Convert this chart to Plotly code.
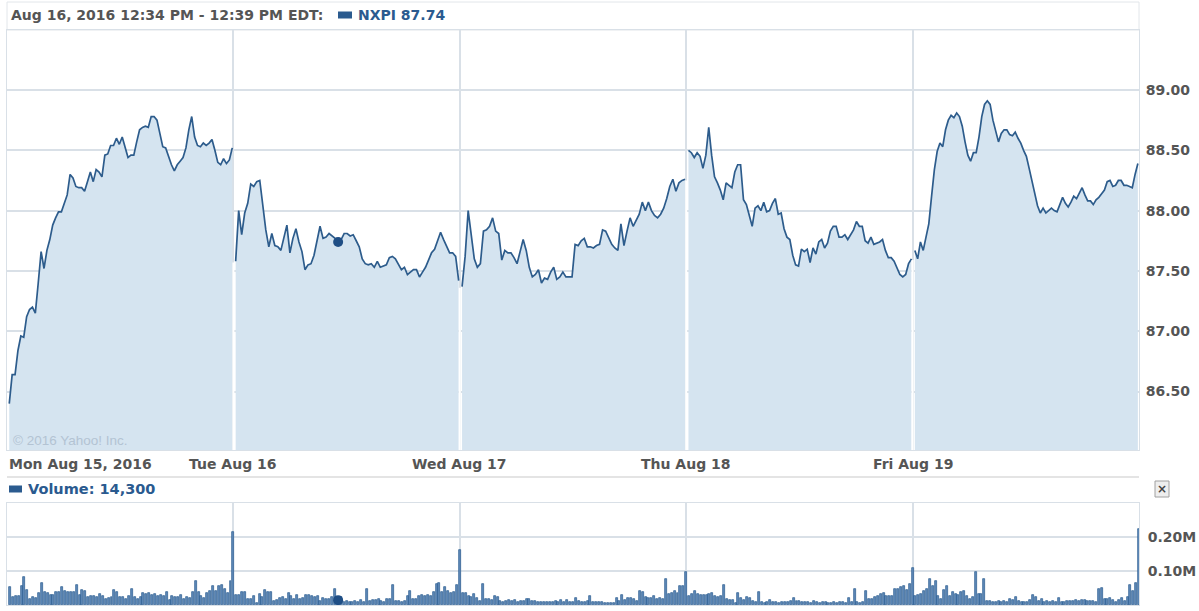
import plotly.graph_objects as go

# ---------------- data ----------------
day_labels = ["Mon Aug 15, 2016", "Tue Aug 16", "Wed Aug 17", "Thu Aug 18", "Fri Aug 19"]

price_mon = [86.40, 86.64, 86.64, 86.84, 86.96, 86.95, 87.12, 87.18, 87.20, 87.15,
             87.40, 87.66, 87.52, 87.67, 87.76, 87.88, 87.94, 87.99, 87.99, 88.06,
             88.13, 88.30, 88.27, 88.20, 88.19, 88.19, 88.16, 88.24, 88.32, 88.24,
             88.34, 88.32, 88.28, 88.46, 88.47, 88.54, 88.54, 88.60, 88.55, 88.61,
             88.53, 88.44, 88.46, 88.46, 88.57, 88.67, 88.69, 88.70, 88.69, 88.78,
             88.78, 88.75, 88.64, 88.53, 88.52, 88.44, 88.38, 88.33, 88.38, 88.41,
             88.44, 88.52, 88.67, 88.78, 88.61, 88.54, 88.53, 88.56, 88.54, 88.56,
             88.59, 88.50, 88.40, 88.38, 88.43, 88.39, 88.42, 88.52]
price_tue = [87.58, 88.00, 87.80, 87.98, 88.06, 88.22, 88.20, 88.24, 88.25, 88.03,
             87.84, 87.70, 87.81, 87.71, 87.70, 87.67, 87.77, 87.88, 87.65, 87.77,
             87.85, 87.74, 87.66, 87.51, 87.55, 87.56, 87.63, 87.76, 87.87, 87.77,
             87.78, 87.81, 87.79, 87.77, 87.74, 87.76, 87.81, 87.81, 87.79, 87.80,
             87.75, 87.70, 87.60, 87.56, 87.55, 87.56, 87.53, 87.58, 87.53, 87.54,
             87.55, 87.61, 87.62, 87.60, 87.55, 87.51, 87.53, 87.47, 87.49, 87.51,
             87.51, 87.45, 87.49, 87.53, 87.59, 87.65, 87.68, 87.76, 87.82, 87.76,
             87.71, 87.65, 87.65, 87.62, 87.42]
price_wed = [87.37, 87.62, 88.00, 87.80, 87.60, 87.53, 87.56, 87.83, 87.84, 87.87,
             87.94, 87.83, 87.81, 87.59, 87.67, 87.65, 87.65, 87.61, 87.56, 87.66,
             87.76, 87.67, 87.53, 87.45, 87.47, 87.51, 87.40, 87.44, 87.43, 87.49,
             87.53, 87.43, 87.45, 87.49, 87.45, 87.45, 87.45, 87.72, 87.71, 87.75,
             87.77, 87.70, 87.70, 87.69, 87.71, 87.72, 87.84, 87.83, 87.77, 87.72,
             87.69, 87.67, 87.89, 87.71, 87.83, 87.94, 87.87, 87.92, 87.97, 88.07,
             88.00, 88.07, 88.00, 87.96, 87.94, 87.97, 88.02, 88.10, 88.20, 88.26,
             88.16, 88.23, 88.25, 88.26]
price_thu = [88.50, 88.48, 88.44, 88.48, 88.45, 88.35, 88.46, 88.69, 88.46, 88.28,
             88.23, 88.17, 88.09, 88.23, 88.21, 88.19, 88.32, 88.38, 88.38, 88.09,
             88.05, 87.96, 87.87, 88.02, 88.04, 88.00, 88.07, 87.99, 88.00, 88.06,
             88.10, 87.97, 87.98, 87.85, 87.78, 87.76, 87.63, 87.55, 87.54, 87.68,
             87.66, 87.68, 87.57, 87.69, 87.64, 87.74, 87.76, 87.69, 87.73, 87.83,
             87.87, 87.87, 87.78, 87.78, 87.80, 87.76, 87.80, 87.84, 87.91, 87.87,
             87.87, 87.75, 87.73, 87.78, 87.72, 87.73, 87.74, 87.76, 87.67, 87.61,
             87.61, 87.58, 87.53, 87.47, 87.45, 87.47, 87.56, 87.60]
price_fri = [87.67, 87.60, 87.74, 87.67, 87.78, 87.89, 88.12, 88.34, 88.49, 88.56,
             88.53, 88.67, 88.75, 88.79, 88.77, 88.81, 88.78, 88.70, 88.57, 88.46,
             88.41, 88.48, 88.48, 88.61, 88.78, 88.88, 88.91, 88.88, 88.75, 88.65,
             88.57, 88.64, 88.67, 88.67, 88.63, 88.62, 88.65, 88.60, 88.56, 88.50,
             88.45, 88.35, 88.25, 88.14, 88.04, 87.98, 88.02, 87.98, 88.00, 88.02,
             88.00, 87.99, 88.05, 88.11, 88.06, 88.03, 88.07, 88.12, 88.10, 88.14,
             88.19, 88.13, 88.08, 88.08, 88.05, 88.09, 88.11, 88.14, 88.17, 88.24,
             88.25, 88.20, 88.21, 88.25, 88.25, 88.21, 88.21, 88.20, 88.19, 88.30,
             88.39]

# volume, thousands of shares per 5-minute bar
vol_mon = [52, 23, 27, 27, 55, 83, 44, 18, 25, 20,
           35, 65, 37, 35, 29, 29, 39, 37, 52, 42,
           39, 39, 37, 59, 29, 44, 42, 25, 27, 27,
           25, 32, 27, 18, 20, 23, 44, 37, 25, 25,
           18, 27, 47, 23, 18, 25, 35, 32, 34, 29,
           31, 27, 29, 27, 37, 15, 27, 25, 23, 29,
           18, 25, 20, 37, 71, 37, 27, 22, 35, 42,
           55, 42, 57, 59, 47, 35, 72, 214]
vol_tue = [29, 29, 39, 39, 18, 18, 27, 6, 32, 25,
           44, 37, 37, 13, 15, 20, 23, 18, 35, 27,
           18, 30, 18, 20, 29, 30, 27, 25, 27, 13,
           20, 18, 18, 25, 47, 14.3, 23, 10, 13, 8,
           10, 12, 10, 16, 8, 47, 13, 16, 16, 18,
           13, 10, 18, 18, 59, 13, 12, 10, 13, 27,
           42, 18, 18, 27, 29, 27, 29, 27, 37, 62,
           65, 37, 52, 42, 35, 37, 60, 163]
vol_wed = [35, 35, 27, 25, 32, 22, 13, 62, 18, 18,
           16, 27, 25, 13, 10, 13, 14, 13, 16, 10,
           12, 11, 18, 18, 13, 12, 10, 8, 8, 10,
           8, 10, 13, 10, 16, 10, 14, 10, 10, 22,
           13, 10, 10, 13, 27, 8, 10, 10, 8, 6,
           6, 6, 6, 22, 13, 29, 16, 22, 22, 18,
           13, 42, 37, 25, 22, 22, 27, 18, 22, 18,
           76, 32, 35, 42, 35, 55, 55, 96]
vol_thu = [27, 32, 42, 32, 30, 30, 29, 32, 34, 27,
           25, 27, 59, 18, 16, 16, 6, 35, 22, 16,
           25, 20, 13, 8, 39, 10, 6, 10, 15, 10,
           10, 6, 8, 10, 10, 13, 20, 13, 12, 10,
           8, 10, 6, 13, 10, 6, 8, 8, 6, 6,
           8, 6, 8, 10, 6, 20, 10, 47, 10, 6,
           10, 42, 18, 18, 25, 27, 32, 35, 27, 27,
           27, 47, 47, 52, 55, 44, 62, 108]
vol_fri = [27, 29, 32, 42, 47, 76, 55, 72, 27, 18,
           44, 55, 27, 37, 32, 29, 39, 42, 27, 18,
           25, 96, 32, 32, 76, 13, 13, 10, 10, 13,
           10, 13, 10, 18, 16, 25, 13, 10, 10, 10,
           16, 29, 25, 13, 18, 10, 13, 10, 13, 10,
           22, 10, 10, 13, 13, 13, 16, 13, 16, 16,
           13, 13, 13, 10, 47, 49, 18, 18, 20, 16,
           10, 16, 22, 13, 25, 59, 42, 65, 225]

price_ticks = [86.50, 87.00, 87.50, 88.00, 88.50, 89.00]
vol_tickvals = [100000, 200000, 300000]
vol_ticktext = ["0.10M", "0.20M", ""]

header_text = "Aug 16, 2016 12:34 PM - 12:39 PM EDT:"
symbol = "NXPI"
copyright_text = "\u00a9 2016 Yahoo! Inc."
hover_day = 1
hover_idx = 34

# ---------------- styling ----------------
W, H = 1199, 611
LINE = "#2d5c8c"
FILL = "#d5e4f0"
GRID = "#d9e0e7"
BLUE_TXT = "#2a5a8f"
GRAY_TXT = "#555555"
FONT = "DejaVu Sans"
FS = 14

def px(x):
    return x / W

def py(y):
    return 1 - y / H

x_dom = [px(7), px(1139)]
price_dom = [py(450), py(30)]
vol_dom = [py(605), py(503)]
price_range = [86.015, 89.4975]
vol_range = [0, 300000]

prices = [price_mon, price_tue, price_wed, price_thu, price_fri]
vols = [vol_mon, vol_tue, vol_wed, vol_thu, vol_fri]


def price_x(d, n):
    return [d + 0.01 + 0.985 * i / (n - 1) for i in range(n)]


def vol_x(d, n):
    return [d + (i + 1) / n for i in range(n)]


fig = go.Figure()

for d, p in enumerate(prices):
    fig.add_trace(go.Scatter(
        x=price_x(d, len(p)), y=p, mode="lines",
        line=dict(color=LINE, width=1.7),
        fill="tozeroy", fillcolor=FILL,
        xaxis="x", yaxis="y", showlegend=False, hoverinfo="skip"))

for d, v in enumerate(vols):
    fig.add_trace(go.Bar(
        x=vol_x(d, len(v)), y=[k * 1000 for k in v],
        width=0.0088,
        marker=dict(color="#5f89b8", line=dict(color="#2a5a8e", width=0.7)),
        xaxis="x2", yaxis="y2", showlegend=False, hoverinfo="skip"))

# hover markers
hp = prices[hover_day]
hx = price_x(hover_day, len(hp))[hover_idx]
hy = hp[hover_idx]
fig.add_trace(go.Scatter(x=[hx], y=[hy], mode="markers",
                         marker=dict(color="#1f4e85", size=10),
                         xaxis="x", yaxis="y", showlegend=False, hoverinfo="skip"))
hv = vols[hover_day]
hvx = vol_x(hover_day, len(hv))
bi = min(range(len(hv)), key=lambda i: abs(hvx[i] - hx))
hover_vol = hv[bi] * 1000
fig.add_trace(go.Scatter(x=[hx], y=[hover_vol], mode="markers",
                         marker=dict(color="#1f4e85", size=10),
                         xaxis="x2", yaxis="y2", showlegend=False, hoverinfo="skip",
                         cliponaxis=False))

shapes = []
# white breaks through the area fill at the day boundaries
for b in range(1, 5):
    low = min(prices[b - 1][-1], prices[b][0])
    shapes.append(dict(type="line", xref="x", yref="y", x0=b, x1=b,
                       y0=price_range[0], y1=low - 0.01,
                       line=dict(color="white", width=2), layer="above"))

# header box
shapes.append(dict(type="rect", xref="paper", yref="paper",
                   x0=px(7), x1=px(1139), y0=py(30), y1=py(2),
                   line=dict(color="#e2e6ea", width=1), fillcolor="white", layer="below"))
# header legend marker
shapes.append(dict(type="rect", xref="paper", yref="paper",
                   x0=px(338), x1=px(352), y0=py(18.5), y1=py(11.5),
                   line=dict(width=0), fillcolor="#2b5b8f"))
# volume legend marker
shapes.append(dict(type="rect", xref="paper", yref="paper",
                   x0=px(9), x1=px(22), y0=py(492.5), y1=py(485.5),
                   line=dict(width=0), fillcolor="#2b5b8f"))
# separator line under x labels
shapes.append(dict(type="line", xref="paper", yref="paper",
                   x0=px(7), x1=px(1139), y0=py(477), y1=py(477),
                   line=dict(color="#e4e4e4", width=2)))
# close button
shapes.append(dict(type="rect", xref="paper", yref="paper",
                   x0=px(1155), x1=px(1169), y0=py(497), y1=py(481),
                   line=dict(color="#a0a0a0", width=1), fillcolor="#eeeeee"))

annotations = []
annotations.append(dict(text=f"<b>{header_text}</b>", xref="paper", yref="paper",
                        x=px(9), y=py(15), xanchor="left", yanchor="middle",
                        showarrow=False, font=dict(family=FONT, size=FS, color=GRAY_TXT)))
annotations.append(dict(text=f"<b>{symbol} {hy:.2f}</b>", xref="paper", yref="paper",
                        x=px(356), y=py(15), xanchor="left", yanchor="middle",
                        showarrow=False, font=dict(family=FONT, size=FS, color=BLUE_TXT)))
annotations.append(dict(text=f"<b>Volume: {int(round(hover_vol)):,}</b>", xref="paper", yref="paper",
                        x=px(26), y=py(489), xanchor="left", yanchor="middle",
                        showarrow=False, font=dict(family=FONT, size=14.5, color=BLUE_TXT)))
annotations.append(dict(text="<b>\u00d7</b>", xref="paper", yref="paper",
                        x=px(1162), y=py(489), xanchor="center", yanchor="middle",
                        showarrow=False, font=dict(family=FONT, size=12, color="#444")))
annotations.append(dict(text=copyright_text, xref="paper", yref="paper",
                        x=px(11), y=py(440), xanchor="left", yanchor="middle",
                        showarrow=False, font=dict(family="Liberation Sans", size=13.5, color="#b3c3d3")))
for d, lab in enumerate(day_labels):
    if d == 0:
        annotations.append(dict(text=f"<b>{lab}</b>", xref="paper", yref="paper",
                                x=px(7), y=py(464), xanchor="left", yanchor="middle",
                                showarrow=False, font=dict(family=FONT, size=FS, color=GRAY_TXT)))
    else:
        annotations.append(dict(text=f"<b>{lab}</b>", xref="x", yref="paper",
                                x=d, y=py(464), xanchor="center", yanchor="middle",
                                showarrow=False, font=dict(family=FONT, size=FS, color=GRAY_TXT)))

axis_common = dict(showline=True, linecolor=GRID, linewidth=1, mirror=True,
                   zeroline=False, fixedrange=True)

fig.update_layout(
    width=W, height=H,
    margin=dict(l=0, r=0, t=0, b=0),
    paper_bgcolor="white", plot_bgcolor="white",
    showlegend=False, bargap=0,
    xaxis=dict(domain=x_dom, range=[0, 5], tickvals=[1, 2, 3, 4],
               showticklabels=False, ticks="", showgrid=True,
               gridcolor=GRID, gridwidth=1.5, anchor="y", **axis_common),
    yaxis=dict(domain=price_dom, range=price_range, side="right",
               tickvals=price_ticks, ticktext=[f"{t:.2f}" for t in price_ticks],
               ticks="outside", ticklen=3, tickcolor="rgba(0,0,0,0)",
               tickfont=dict(family=FONT, size=FS, color=GRAY_TXT, weight="bold"),
               showgrid=True, gridcolor=GRID, gridwidth=1.5, anchor="x", **axis_common),
    xaxis2=dict(domain=x_dom, range=[0, 5], tickvals=[1, 2, 3, 4],
                showticklabels=False, ticks="", showgrid=True,
                gridcolor=GRID, gridwidth=1.5, anchor="y2", matches="x", **axis_common),
    yaxis2=dict(domain=vol_dom, range=vol_range, side="right",
                tickvals=vol_tickvals, ticktext=vol_ticktext,
                ticks="outside", ticklen=5, tickcolor="rgba(0,0,0,0)",
                tickfont=dict(family=FONT, size=FS, color=GRAY_TXT, weight="bold"),
                showgrid=True, gridcolor=GRID, gridwidth=1.5, anchor="x2", **axis_common),
    shapes=shapes,
    annotations=annotations,
)

fig.write_html("out.html",
               config={"displayModeBar": False},
               post_script="document.body.style.margin='0';document.body.style.padding='0';")
